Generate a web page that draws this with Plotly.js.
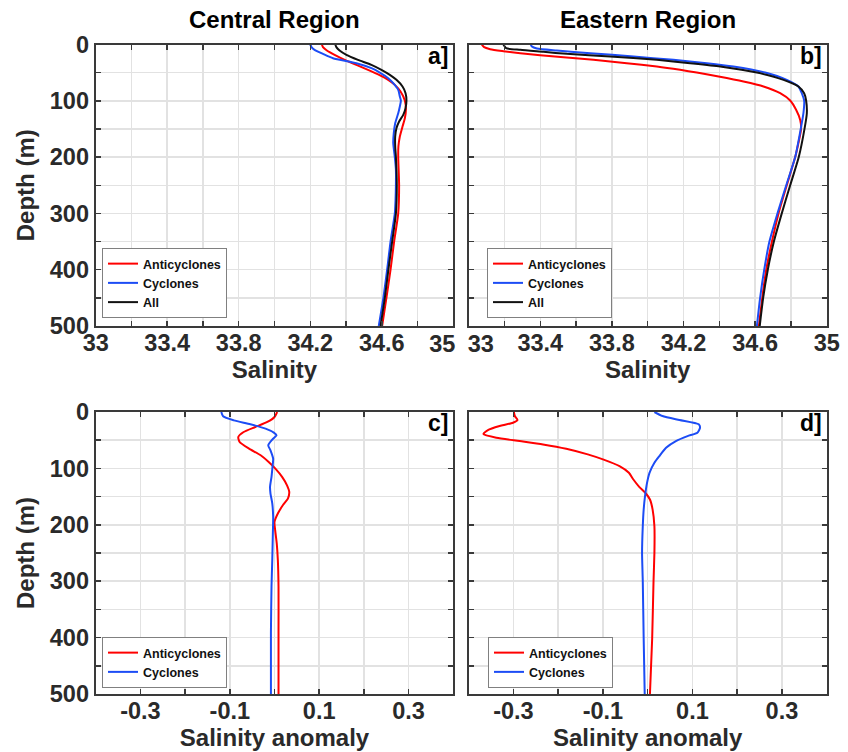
<!DOCTYPE html>
<html>
<head>
<meta charset="utf-8">
<script src="https://cdn.plot.ly/plotly-3.0.1.min.js"></script>
<style>html,body{margin:0;padding:0;background:#fff;}#chart{width:848px;height:752px;}</style>
</head>
<body>
<div id="chart"></div>
<script>
// ---- Panel a: Central Region salinity ----
var aAntiDepth = [0,4.7,10.7,18.4,27.3,36.1,45,53.9,62.8,71.7,83.5,99.5,116,131,145.7,163.5,181,200,228.7,250,300,350,400,450,500];
var aAntiSal   = [34.265,34.271,34.293,34.336,34.393,34.458,34.523,34.585,34.636,34.673,34.705,34.729,34.735,34.729,34.716,34.701,34.693,34.692,34.695,34.697,34.692,34.669,34.649,34.626,34.602];
var aCycDepth  = [0,4.7,9.5,16.6,24.3,33.2,42,49.8,59.8,68.7,80.6,92.4,99.5,110,122,140,157.6,175,200,222.7,250,276,300,350,400,450,500];
var aCycSal    = [34.200,34.207,34.224,34.271,34.327,34.458,34.542,34.589,34.636,34.664,34.692,34.701,34.707,34.701,34.692,34.675,34.667,34.664,34.673,34.679,34.679,34.677,34.673,34.649,34.630,34.609,34.583];
var aAllDepth  = [0,4.7,10.7,18.4,27.3,36.1,45,53.9,62.8,74.6,86.5,99.5,113,125,136.8,148.7,163.5,181,200,250,300,350,400,450,500];
var aAllSal    = [34.340,34.346,34.364,34.402,34.467,34.542,34.598,34.645,34.682,34.716,34.733,34.738,34.733,34.720,34.697,34.682,34.675,34.675,34.679,34.684,34.679,34.658,34.637,34.617,34.593];

// ---- Panel b: Eastern Region salinity ----
var bAntiDepth = [0,4.7,8.3,11.8,15.4,19,22.5,27.3,33.2,39.1,45,49.8,56.9,65.8,74.6,86.5,99.5,116,134,150,175,200,250,300,350,400,450,500];
var bAntiSal   = [33.073,33.086,33.12,33.194,33.288,33.399,33.530,33.697,33.883,34.051,34.181,34.274,34.396,34.535,34.647,34.740,34.796,34.829,34.852,34.857,34.842,34.824,34.777,34.731,34.694,34.662,34.640,34.621];
var bCycDepth  = [0,3.6,7.1,10.7,15.4,21.3,27.3,33.2,39.1,49.8,62.8,74.6,99.5,122,150,200,250,300,350,400,450,500];
var bCycSal    = [33.347,33.353,33.381,33.492,33.679,33.921,34.144,34.330,34.479,34.656,34.777,34.842,34.874,34.870,34.855,34.824,34.774,34.725,34.680,34.651,34.628,34.610];
var bAllDepth  = [0,6.5,9.5,13,16.6,21.3,27.3,33.2,39.1,49.8,62.8,74.6,86.5,99.5,122,150,200,250,300,350,400,450,500];
var bAllSal    = [33.194,33.209,33.288,33.418,33.548,33.790,34.051,34.237,34.405,34.610,34.759,34.842,34.874,34.885,34.889,34.876,34.844,34.796,34.749,34.705,34.671,34.645,34.626];

// ---- Panel c: Central Region salinity anomaly ----
var cAntiDepth = [0,8.9,17.7,26.6,35.4,44.3,53.1,64.9,76.7,88.5,100.4,115,130,141.7,153.5,165,180,194.8,209.6,233,262.7,310,392.5,500];
var cAntiAnom  = [0.006,0.0,-0.016,-0.043,-0.069,-0.081,-0.078,-0.057,-0.031,-0.013,0.002,0.017,0.028,0.033,0.030,0.019,0.0075,0.0,0.0015,0.005,0.0075,0.009,0.009,0.009];
var cCycDepth  = [0,7.7,14.8,21.8,29.5,36.6,41.3,49,59,67.9,82.6,97.4,115,132.8,144.6,162,186,215.5,262.7,310,392.5,500];
var cCycAnom   = [-0.119,-0.115,-0.091,-0.054,-0.020,-0.0015,0.0045,-0.005,-0.014,-0.009,-0.003,-0.0045,-0.0067,-0.010,-0.009,-0.005,-0.003,-0.0037,-0.005,-0.0067,-0.008,-0.008];

// ---- Panel d: Eastern Region salinity anomaly ----
var dAntiDepth = [0,7.1,14.2,19,24.9,32,39.1,45.6,51.5,57.5,65.2,75.2,84.1,96,107.8,119.7,132.7,144.5,155.2,173,202.6,250,300.3,401,500];
var dAntiAnom  = [-0.299,-0.297,-0.291,-0.301,-0.331,-0.357,-0.367,-0.338,-0.286,-0.234,-0.182,-0.134,-0.100,-0.063,-0.042,-0.032,-0.019,-0.004,0.005,0.011,0.015,0.015,0.013,0.010,0.005];
var dCycDepth  = [0,7.1,14.2,21.9,27.8,36.7,42.7,51.5,63.4,78.2,90,107.8,125.6,149.3,173,202.6,250,300.3,401,500];
var dCycAnom   = [0.015,0.033,0.071,0.114,0.117,0.111,0.089,0.063,0.041,0.026,0.015,0.004,-0.0015,-0.006,-0.009,-0.011,-0.0126,-0.011,-0.009,-0.0067];

// ---- Ticks / labels ----
var salTicks = [33,33.2,33.4,33.6,33.8,34,34.2,34.4,34.6,34.8,35];
var salTickTextA = ['33','','33.4','','33.8','','34.2','','34.6','',''];
var salTickTextB = ['','','33.4','','33.8','','34.2','','34.6','','35'];
var salEdgeTickA = [35], salEdgeTextA = ['35'];   // right-edge label of panel a (nudged left)
var salEdgeTickB = [33], salEdgeTextB = ['33'];   // left-edge label of panel b (nudged right)
var anomTicks = [-0.4,-0.3,-0.2,-0.1,0,0.1,0.2,0.3,0.4];
var anomTickText = ['','-0.3','','-0.1','','0.1','','0.3',''];
var depthTicks = [0,50,100,150,200,250,300,350,400,450,500];
var depthTickText = ['0','','100','','200','','300','','400','','500'];
var seriesNames = ['Anticyclones','Cyclones','All'];
var panelTitles = ['Central Region','Eastern Region'];
var panelLetters = ['a]','b]','c]','d]'];
var xTitles = ['Salinity','Salinity anomaly'];
var yTitle = 'Depth (m)';

var RED = '#ff0000', BLUE = '#1c4cf5', BLACK = '#111111';
var FONT = 'Liberation Sans, Arial, Helvetica, sans-serif';
var TXT = '#2a2a2a';

function tr(x, y, name, color, xa, ya, lg) {
  return {x: x, y: y, name: name, type: 'scatter', mode: 'lines',
    line: {color: color, width: 2, shape: 'spline', smoothing: 0.6},
    xaxis: xa, yaxis: ya, legend: lg, showlegend: true, hoverinfo: 'skip'};
}

var data = [
  tr(aAntiSal, aAntiDepth, seriesNames[0], RED, 'x', 'y', 'legend'),
  tr(aCycSal, aCycDepth, seriesNames[1], BLUE, 'x', 'y', 'legend'),
  tr(aAllSal, aAllDepth, seriesNames[2], BLACK, 'x', 'y', 'legend'),
  tr(bAntiSal, bAntiDepth, seriesNames[0], RED, 'x2', 'y2', 'legend2'),
  tr(bCycSal, bCycDepth, seriesNames[1], BLUE, 'x2', 'y2', 'legend2'),
  tr(bAllSal, bAllDepth, seriesNames[2], BLACK, 'x2', 'y2', 'legend2'),
  tr(cAntiAnom, cAntiDepth, seriesNames[0], RED, 'x3', 'y3', 'legend3'),
  tr(cCycAnom, cCycDepth, seriesNames[1], BLUE, 'x3', 'y3', 'legend3'),
  tr(dAntiAnom, dAntiDepth, seriesNames[0], RED, 'x4', 'y4', 'legend4'),
  tr(dCycAnom, dCycDepth, seriesNames[1], BLUE, 'x4', 'y4', 'legend4'),
  // empty helper traces so the edge-label overlay axes are drawn
  {x: [], y: [], type: 'scatter', mode: 'lines', xaxis: 'x5', yaxis: 'y', showlegend: false, hoverinfo: 'skip'},
  {x: [], y: [], type: 'scatter', mode: 'lines', xaxis: 'x6', yaxis: 'y2', showlegend: false, hoverinfo: 'skip'}
];

var W = 848, H = 752;
var colL = [95.7/W, 453.3/W], colR = [468.7/W, 826.7/W];
var rowT = [1-326/H, 1-44.5/H], rowB = [1-694/H, 1-412/H];
var tickFont = {family: FONT, size: 23.5, color: TXT, weight: 'bold'};

function axBase() {
  return {showline: true, linecolor: '#3a3a3a', linewidth: 2, mirror: 'ticks',
    ticks: 'inside', ticklen: 5, tickwidth: 1.5, tickcolor: '#3a3a3a',
    showgrid: true, gridcolor: '#e2e2e2', gridwidth: 1.5, zeroline: false,
    tickfont: tickFont, fixedrange: true};
}
function xax(domain, anchor, kind, title) {
  var a = axBase();
  a.domain = domain; a.anchor = anchor;
  a.range = kind === 'anom' ? [-0.4, 0.4] : [33, 35];
  a.tickmode = 'array';
  a.tickvals = kind === 'anom' ? anomTicks : salTicks;
  a.ticktext = kind === 'anom' ? anomTickText : (kind === 'salA' ? salTickTextA : salTickTextB);
  a.ticklabelstandoff = -5;
  a.title = {text: title, font: {family: FONT, size: 24, color: TXT, weight: 'bold'}, standoff: 4};
  return a;
}
function edgeAx(domain, anchor, over, vals, txt, shift) {
  return {domain: domain, anchor: anchor, overlaying: over, range: [33, 35],
    tickmode: 'array', tickvals: vals, ticktext: txt, ticklabelshift: shift,
    ticklabelstandoff: 1, ticks: '', showline: false, showgrid: false, zeroline: false,
    side: 'bottom', tickfont: tickFont, fixedrange: true};
}
function yax(domain, anchor, showLabels) {
  var a = axBase();
  a.domain = domain; a.anchor = anchor;
  a.range = [500, 0];
  a.tickmode = 'array';
  a.tickvals = depthTicks;
  a.ticktext = depthTickText;
  a.showticklabels = showLabels;
  a.ticklabelstandoff = 0;
  if (showLabels) a.title = {text: yTitle, font: {family: FONT, size: 24, color: TXT, weight: 'bold'}, standoff: 8};
  return a;
}
function lg(xpx, ybottompx) {
  return {x: xpx/W, y: 1-ybottompx/H, xanchor: 'left', yanchor: 'bottom',
    bgcolor: '#ffffff', bordercolor: '#808080', borderwidth: 1,
    font: {family: FONT, size: 12.5, color: '#111', weight: 'bold'},
    itemwidth: 30, tracegroupgap: 0, traceorder: 'normal'};
}

var annotations = [];
var xrefs = ['x', 'x2', 'x3', 'x4'], yrefs = ['y', 'y2', 'y3', 'y4'];
for (var i = 0; i < 4; i++) {
  annotations.push({text: panelLetters[i], xref: xrefs[i] + ' domain', yref: yrefs[i] + ' domain',
    x: 1, y: 1, xanchor: 'right', yanchor: 'top', xshift: -3, yshift: 4, showarrow: false,
    font: {family: FONT, size: 23, color: '#000', weight: 'bold'}});
}
for (var j = 0; j < 2; j++) {
  annotations.push({text: panelTitles[j], xref: xrefs[j] + ' domain', yref: 'paper',
    x: 0.5, y: 1-20/H, xanchor: 'center', yanchor: 'middle', showarrow: false,
    font: {family: FONT, size: 24, color: '#000', weight: 'bold'}});
}

var layout = {
  width: W, height: H, margin: {l: 0, r: 0, t: 0, b: 0},
  paper_bgcolor: '#fff', plot_bgcolor: '#fff',
  xaxis: xax(colL, 'y', 'salA', xTitles[0]),
  xaxis2: xax(colR, 'y2', 'salB', xTitles[0]),
  xaxis3: xax(colL, 'y3', 'anom', xTitles[1]),
  xaxis4: xax(colR, 'y4', 'anom', xTitles[1]),
  xaxis5: edgeAx(colL, 'y', 'x', salEdgeTickA, salEdgeTextA, -11),
  xaxis6: edgeAx(colR, 'y2', 'x2', salEdgeTickB, salEdgeTextB, 12),
  yaxis: yax(rowT, 'x', true),
  yaxis2: yax(rowT, 'x2', false),
  yaxis3: yax(rowB, 'x3', true),
  yaxis4: yax(rowB, 'x4', false),
  legend: lg(102, 318),
  legend2: lg(487, 318),
  legend3: lg(102, 688),
  legend4: lg(488, 688),
  annotations: annotations,
  showlegend: true
};

Plotly.newPlot('chart', data, layout, {staticPlot: true, displayModeBar: false});
</script>
</body>
</html>
